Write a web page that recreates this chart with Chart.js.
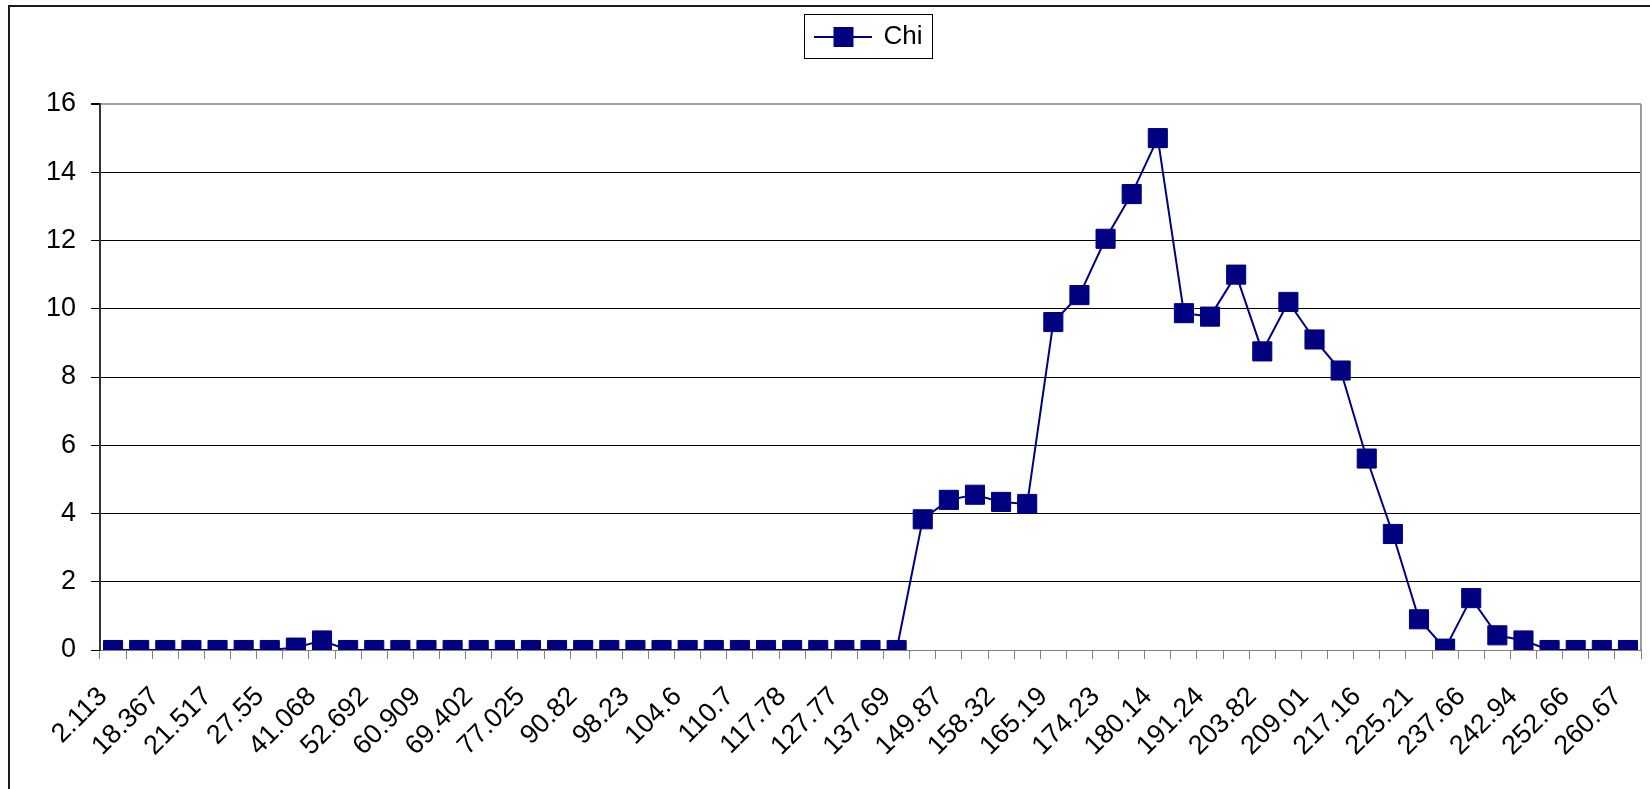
<!DOCTYPE html>
<html>
<head>
<meta charset="utf-8">
<script src="https://cdn.jsdelivr.net/npm/chart.js@4/dist/chart.umd.min.js"></script>
<style>
html,body{margin:0;padding:0;background:#fff;}
#wrap{width:1650px;height:789px;position:relative;}
</style>
</head>
<body>
<div id="wrap"><canvas id="c" width="1650" height="789"></canvas></div>
<script>
// Visible category labels (every other category is labelled)
const tickLabels = ['2.113','18.367','21.517','27.55','41.068','52.692','60.909','69.402','77.025','90.82',
  '98.23','104.6','110.7','117.78','127.77','137.69','149.87','158.32','165.19','174.23',
  '180.14','191.24','203.82','209.01','217.16','225.21','237.66','242.94','252.66','260.67'];

const seriesName = 'Chi';

// 59 values
const chiValues = [
  0, 0, 0, 0, 0, 0, 0, 0.07, 0.28, 0,
  0, 0, 0, 0, 0, 0, 0, 0, 0, 0,
  0, 0, 0, 0, 0, 0, 0, 0, 0, 0,
  0, 3.83, 4.40, 4.55, 4.34, 4.28, 9.61, 10.40, 12.05, 13.36,
  15.0, 9.87, 9.77, 11.0, 8.75, 10.2, 9.1, 8.19, 5.61, 3.40,
  0.90, 0.04, 1.52, 0.43, 0.28, 0, 0, 0, 0
];

const yMin = 0, yMax = 16, yStep = 2;

const categories = chiValues.map((v, i) => (i % 2 === 0 ? tickLabels[i / 2] : ''));

const NAVY = '#000080';
const FONT = "'Liberation Sans', Arial, sans-serif";

// legend symbol: line with a square
const sym = document.createElement('canvas');
sym.width = 58; sym.height = 20;
(function(){
  const g = sym.getContext('2d');
  g.strokeStyle = NAVY; g.lineWidth = 2;
  g.beginPath(); g.moveTo(0, 10); g.lineTo(58, 10); g.stroke();
  g.fillStyle = NAVY; g.fillRect(19, 0, 20, 20);
})();

const PLOT_RIGHT_GAP = 9;

const framePlugin = {
  id: 'frame',
  beforeInit(chart) {
    const lg = chart.legend;
    if (lg) {
      const f = lg.fit;
      lg.fit = function() { f.call(this); this.height += 44; };
    }
  },
  afterLayout(chart) {
    const lg = chart.legend;
    if (lg) { lg.left += 44; lg.right += 44; }
    const a = chart.chartArea;
    const target = chart.width - PLOT_RIGHT_GAP;
    if (Math.abs(a.right - target) > 0.5) {
      a.right = target;
      a.width = a.right - a.left;
      const xs = chart.scales.x;
      xs.right = target;
      xs.width = xs.right - xs.left;
      xs.configure();
    }
  },
  beforeDraw(chart) {
    const ctx = chart.ctx;
    ctx.save();
    ctx.fillStyle = '#fff';
    ctx.fillRect(0, 0, chart.width, chart.height);
    ctx.restore();
  },
  afterDraw(chart) {
    const ctx = chart.ctx;
    const a = chart.chartArea;
    ctx.save();
    // outer frame
    ctx.strokeStyle = '#1a1a1a';
    ctx.lineWidth = 2;
    ctx.strokeRect(9, 6, 1700, 900);
    // plot right border
    ctx.strokeStyle = '#9a9a9a';
    ctx.lineWidth = 2;
    ctx.beginPath();
    ctx.moveTo(a.right, a.top);
    ctx.lineTo(a.right, a.bottom);
    ctx.stroke();
    // legend border
    const lg = chart.legend;
    if (lg && lg.legendHitBoxes && lg.legendHitBoxes.length) {
      const h = lg.legendHitBoxes[0];
      ctx.strokeStyle = '#000';
      ctx.lineWidth = 1;
      ctx.strokeRect(Math.round(h.left - 12) + 0.5, Math.round(h.top - 10) + 0.5,
                     Math.round(h.width + 22), Math.round(h.height + 18));
    }
    ctx.restore();
  }
};

new Chart(document.getElementById('c'), {
  type: 'line',
  data: {
    labels: categories,
    datasets: [{
      label: seriesName,
      data: chiValues,
      borderColor: NAVY,
      backgroundColor: NAVY,
      borderWidth: 2,
      tension: 0,
      pointStyle: 'rect',
      pointRadius: 13.5,
      pointHoverRadius: 13.5,
      pointBorderWidth: 1,
      pointBackgroundColor: NAVY,
      pointBorderColor: NAVY
    }]
  },
  options: {
    responsive: false,
    devicePixelRatio: 1,
    animation: false,
    layout: { padding: { left: 10, right: PLOT_RIGHT_GAP, top: 14, bottom: 0 } },
    plugins: {
      tooltip: { enabled: false },
      legend: {
        display: true,
        position: 'top',
        labels: {
          usePointStyle: true,
          pointStyle: sym,
          pointStyleWidth: 54,
          padding: 10,
          color: '#000',
          font: { family: FONT, size: 26 }
        }
      }
    },
    scales: {
      x: {
        type: 'category',
        offset: true,
        afterFit(s) { s.height = 139; s.paddingLeft = 0; s.paddingRight = 0; },
        grid: {
          offset: true,
          drawOnChartArea: false,
          drawTicks: true,
          tickLength: 9,
          color: '#808080',
          lineWidth: 1
        },
        border: { display: true, color: '#808080', width: 1 },
        ticks: {
          autoSkip: false,
          maxRotation: 45,
          minRotation: 45,
          labelOffset: -10,
          padding: 22,
          color: '#000',
          font: { family: FONT, size: 27 }
        }
      },
      y: {
        min: yMin,
        max: yMax,
        afterFit(s) { s.width = 90; },
        grid: {
          color: (c) => c.tick && c.tick.value === yMax ? '#a0a0a0' : (c.tick && c.tick.value === yMin ? '#808080' : '#000'),
          lineWidth: (c) => c.tick && c.tick.value === yMax ? 2 : 1,
          tickColor: '#000',
          tickLength: 9,
          drawTicks: true
        },
        border: { display: true, color: '#333', width: 2 },
        ticks: {
          stepSize: yStep,
          padding: 15,
          color: '#000',
          font: { family: FONT, size: 27 }
        }
      }
    }
  },
  plugins: [framePlugin]
});
</script>
</body>
</html>
